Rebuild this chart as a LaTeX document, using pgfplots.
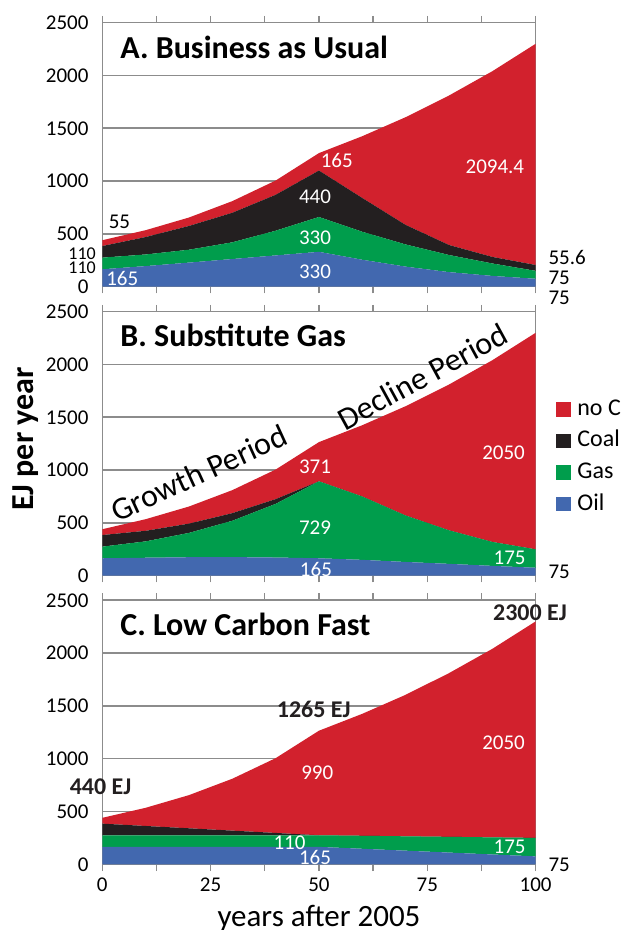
\documentclass[border=0pt]{standalone}
\usepackage{fontspec}
\setmainfont{Carlito}
\usepackage{pgfplots}
\pgfplotsset{compat=1.18}

\definecolor{noC}{RGB}{210,33,45}
\definecolor{coal}{RGB}{35,31,32}
\definecolor{gas}{RGB}{0,157,76}
\definecolor{oil}{RGB}{66,104,175}
\definecolor{frame}{RGB}{140,140,140}

\newcommand{\fsz}[1]{\fontsize{#1}{#1}\selectfont}

\pgfplotsset{
  panel/.style={
    scale only axis, width=216.65pt, height=132pt,
    anchor=south west,
    xmin=0, xmax=100, ymin=0, ymax=2500,
    stack plots=y,
    clip=false,
    axis line style={frame, line width=0.7pt},
    ytick={0,500,...,2500},
    ymajorgrids, grid style={frame, line width=0.8pt},
    ytick style={draw=none},
    xtick={0,25,...,100}, minor xtick={12.5,37.5,...,87.5},
    xtick style={frame, line width=0.7pt},
    tick align=outside, major tick length=3.4pt, minor tick length=3.4pt,
    tick label style={font=\fsz{10.5}},
    /pgf/number format/1000 sep={},
    /pgf/number format/assume math mode=true,
    every axis plot/.append style={draw=none},
  },
}
\tikzset{
  val/.style={font=\fsz{10.5}, text=white, inner sep=0pt},
  outv/.style={font=\fsz{10.5}, text=black, inner sep=0pt, anchor=west},
  ttl/.style={font=\bfseries\fsz{16}, inner sep=0pt, anchor=west},
  ej/.style={font=\bfseries\fsz{12}, text=coal, inner sep=0pt},
}

\begin{document}
\begin{tikzpicture}

% A. Business as Usual
\begin{axis}[panel, at={(51.15pt,321.65pt)}, xticklabels={}]
\addplot[fill=oil] coordinates {(0,165)(10,195)(20,228)(30,262)(40,296)(50,330)(60,255)(70,190)(80,138)(90,102)(100,75)} \closedcycle;
\addplot[fill=gas] coordinates {(0,110)(10,110)(20,122)(30,158)(40,234)(50,330)(60,265)(70,210)(80,162)(90,118)(100,75)} \closedcycle;
\addplot[fill=coal] coordinates {(0,110)(10,165)(20,225)(30,280)(40,340)(50,440)(60,320)(70,185)(80,95)(90,62)(100,55.6)} \closedcycle;
\addplot[fill=noC] coordinates {(0,55)(10,65)(20,80)(30,110)(40,135)(50,165)(60,585)(70,1020)(80,1415)(90,1758)(100,2094.4)} \closedcycle;
\node[ttl] at (axis cs:4.1,2270) {A. Business as Usual};
\node[outv] at (axis cs:1.4,616) {55};
\coordinate (a1) at (axis cs:4.6,80);
\coordinate (a2) at (axis cs:49.1,142);
\coordinate (a3) at (axis cs:49.1,468);
\coordinate (a4) at (axis cs:49.1,852);
\coordinate (a5) at (axis cs:54.1,1193);
\coordinate (a6) at (axis cs:90.6,1131);
\node[outv] at (axis cs:102.9,275) {55.6};
\node[outv] at (axis cs:102.9,85) {75};
\node[outv] at (axis cs:102.9,-110) {75};
\node[font=\fsz{9}, inner sep=0pt, anchor=east] at (axis cs:-1.4,309) {110};
\node[font=\fsz{9}, inner sep=0pt, anchor=east] at (axis cs:-1.4,184) {110};
\end{axis}
\node[val] at (a1) {165};
\node[val] at (a2) {330};
\node[val] at (a3) {330};
\node[val] at (a4) {440};
\node[val] at (a5) {165};
\node[val] at (a6) {2094.4};

% B. Substitute Gas
\begin{axis}[panel, at={(51.15pt,177.15pt)}, xticklabels={},
  ylabel={EJ per year},
  ylabel style={at={(rel axis cs:0,0.518)}, yshift=38.15pt, anchor=center,
    font=\bfseries\fsz{16}, inner sep=0pt},
  legend style={at={(rel axis cs:1.047,0.670)}, anchor=north west,
    draw=none, fill=none, font=\fsz{12}, inner sep=0pt, row sep=5.8pt,
    nodes={inner sep=0pt, text height=8pt, text depth=2pt},
    /tikz/every odd column/.append style={column sep=3.2pt}},
  legend cell align=left, reverse legend,
  legend image code/.code={\fill[#1] (0pt,-3.65pt) rectangle (7.3pt,3.65pt);},
]
\addplot[fill=oil] coordinates {(0,165)(10,170)(20,175)(30,176)(40,172)(50,165)(60,150)(70,130)(80,112)(90,93)(100,75)} \closedcycle;
\addplot[fill=gas] coordinates {(0,110)(10,155)(20,230)(30,344)(40,508)(50,729)(60,600)(70,440)(80,318)(90,227)(100,175)} \closedcycle;
\addplot[fill=coal] coordinates {(0,110)(10,100)(20,88)(30,72)(40,45)(50,0)(60,0)(70,0)(80,0)(90,0)(100,0)} \closedcycle;
\addplot[fill=noC] coordinates {(0,55)(10,110)(20,162)(30,218)(40,280)(50,371)(60,675)(70,1035)(80,1380)(90,1720)(100,2050)} \closedcycle;
\legend{Oil,Gas,Coal,no C}
\node[ttl] at (axis cs:4.1,2272) {B. Substitute Gas};
\node[rotate=24.6, font=\fsz{16}, inner sep=0pt] at (axis cs:22.3,971) {Growth Period};
\node[rotate=28.6, font=\fsz{16}, inner sep=0pt] at (axis cs:73.9,1887) {Decline Period};
\coordinate (b1) at (axis cs:49.1,1033);
\coordinate (b2) at (axis cs:49.1,459);
\coordinate (b3) at (axis cs:49.3,61);
\coordinate (b4) at (axis cs:92.6,1160);
\coordinate (b5) at (axis cs:94,165);
\node[outv] at (axis cs:102.9,38) {75};
\end{axis}
\node[val] at (b1) {371};
\node[val] at (b2) {729};
\node[val] at (b3) {165};
\node[val] at (b4) {2050};
\node[val] at (b5) {175};

% C. Low Carbon Fast
\begin{axis}[panel, at={(51.15pt,32.85pt)},
  xlabel={years after 2005},
  xlabel style={at={(rel axis cs:0.5,0)}, anchor=base, yshift=-31.2pt,
    font=\fsz{15.5}, inner sep=0pt},
]
\addplot[fill=oil] coordinates {(0,165)(10,165)(20,165)(30,165)(40,165)(50,165)(60,147)(70,129)(80,111)(90,93)(100,75)} \closedcycle;
\addplot[fill=gas] coordinates {(0,110)(10,110)(20,110)(30,110)(40,110)(50,110)(60,123)(70,136)(80,149)(90,162)(100,175)} \closedcycle;
\addplot[fill=coal] coordinates {(0,110)(10,88)(20,66)(30,44)(40,22)(50,0)(60,0)(70,0)(80,0)(90,0)(100,0)} \closedcycle;
\addplot[fill=noC] coordinates {(0,55)(10,172)(20,314)(30,491)(40,708)(50,990)(60,1155)(70,1340)(80,1550)(90,1785)(100,2050)} \closedcycle;
\node[ttl] at (axis cs:4.1,2269) {C. Low Carbon Fast};
\coordinate (c1) at (axis cs:49.6,863);
\coordinate (c2) at (axis cs:43.2,205);
\coordinate (c3) at (axis cs:49.1,66);
\coordinate (c4) at (axis cs:94,161);
\coordinate (c5) at (axis cs:92.6,1153);
\node[ej] at (axis cs:48.8,1463) {1265 EJ};
\node[ej] at (axis cs:98.7,2380) {2300 EJ};
\node[ej] at (axis cs:-0.4,730) {440 EJ};
\node[outv] at (axis cs:102.9,-7) {75};
\end{axis}
\node[val] at (c1) {990};
\node[val] at (c2) {110};
\node[val] at (c3) {165};
\node[val] at (c4) {175};
\node[val] at (c5) {2050};

\pgfresetboundingbox
\path[use as bounding box] (0,0) rectangle (311.5pt,465pt);
\end{tikzpicture}
\end{document}
